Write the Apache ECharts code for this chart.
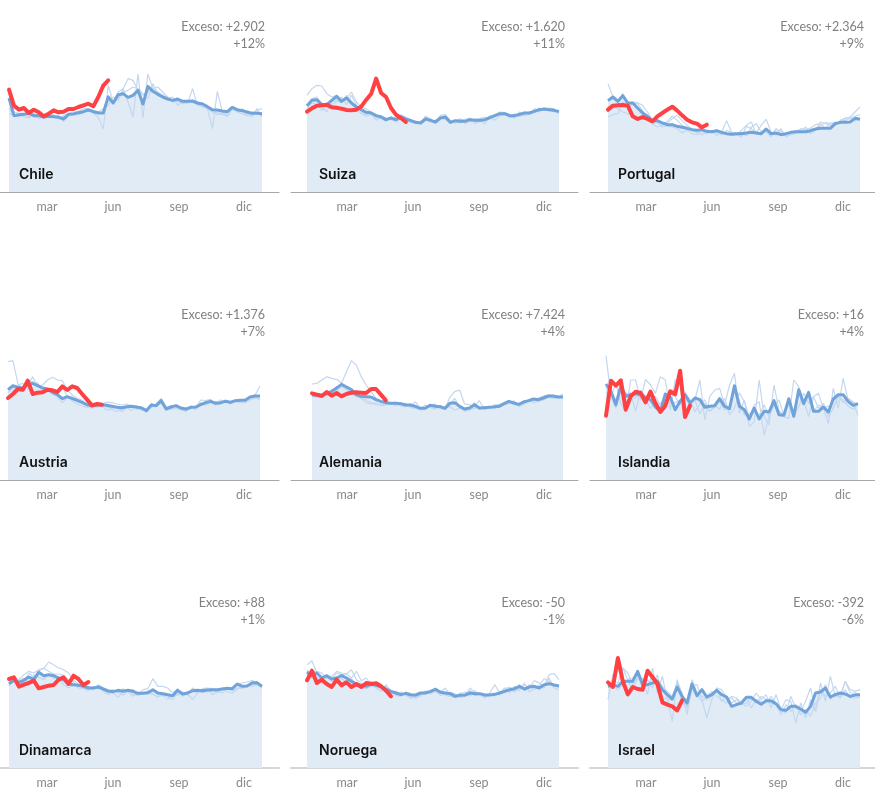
<!DOCTYPE html>
<html>
<head>
<meta charset="utf-8">
<script src="https://cdn.jsdelivr.net/npm/echarts@6/dist/echarts.min.js"></script>
<style>
html, body { margin: 0; padding: 0; background: #fff; }
#chart { width: 875px; height: 794px; }
</style>
</head>
<body>
<div id="chart"></div>
<script>
var countries = ['Chile', 'Suiza', 'Portugal', 'Austria', 'Alemania', 'Islandia', 'Dinamarca', 'Noruega', 'Israel'];
var excessLabels = ['Exceso: +2.902', 'Exceso: +1.620', 'Exceso: +2.364', 'Exceso: +1.376', 'Exceso: +7.424', 'Exceso: +16', 'Exceso: +88', 'Exceso: -50', 'Exceso: -392'];
var pctLabels = ['+12%', '+11%', '+9%', '+7%', '+4%', '+4%', '+1%', '-1%', '-6%'];
var monthLabels = ['mar', 'jun', 'sep', 'dic'];

// weekly values, one per week of the year. current year stops where the data stops
var chileMean = [282,229,232,233,237,229,229,225,227,226, 224,219,233,234,238,241,246,241,238,237, 285,267,292,295,284,290,305,264,317,302, 293,285,279,275,279,272,272,273,267,264, 256,247,246,243,241,254,247,244,240,236, 236,235];
var chileRed = [307,259,247,252,237,247,239,227,235,245, 239,241,249,249,255,260,265,257,285,319, 335];
var chileA = [252,228,232,226,222,234,232,220,226,224, 230,212,228,236,232,240,250,236,224,189, 320,270,300,310,270,225,354,222,354,310, 300,290,280,285,260,272,265,310,260,268, 250,190,302,240,230,255,240,250,238,225, 250,225];
var chileB = [235,230,225,235,225,235,220,225,230,232, 222,230,235,240,242,250,250,245,240,250, 260,285,275,310,340,335,305,290,300,310, 315,300,285,270,272,265,268,270,262,255, 250,240,238,232,228,250,240,235,228,230, 246,250];
var chileC = [290,240,236,236,232,228,232,228,236,230, 220,226,230,236,242,244,248,240,232,240, 290,270,280,300,305,315,310,295,280,325, 295,290,280,270,280,270,275,268,270,258, 250,240,232,236,226,248,245,242,232,240, 240,228];

var suizaMean = [259,275,277,262,262,275,287,272,282,267, 255,247,239,237,229,225,217,222,217,225, 219,214,209,207,219,215,210,222,225,209, 214,212,212,217,215,215,217,223,229,235, 235,229,229,233,237,237,242,247,249,247, 245,241];
var suizaRed = [241,251,259,260,262,254,253,250,246,245, 247,257,277,295,340,297,285,252,232,222, 210];
var suizaA = [290,310,320,318,295,285,290,270,280,300, 270,255,250,240,225,230,215,220,225,220, 222,218,212,210,225,215,205,222,218,205, 212,220,205,215,212,213,205,225,215,230, 235,225,222,240,228,235,245,240,252,250, 240,240];
var suizaB = [250,268,262,245,255,262,270,285,262,290, 262,240,232,240,222,220,212,225,210,220, 215,210,205,212,222,210,215,225,222,212, 210,207,218,222,205,212,215,228,225,240, 238,232,225,228,240,232,250,245,250,244, 244,238];
var suizaC = [262,280,285,255,240,270,275,268,290,272, 248,235,228,232,215,228,222,218,212,232, 224,210,212,205,228,220,208,230,232,215, 205,218,216,210,218,220,225,218,232,228, 232,225,235,226,235,240,238,252,245,252, 250,235];

var portugalMean = [274,285,272,289,267,267,252,237,227,214, 214,207,202,202,197,194,191,187,185,187, 182,181,184,179,175,173,175,175,177,179, 177,175,189,175,177,172,175,179,181,181, 181,184,189,191,191,191,205,209,209,210, 221,218];
var portugalRed = [247,259,260,261,259,227,219,225,219,212, 227,237,247,256,244,230,217,209,205,194, 202];
var portugalA = [325,285,270,295,250,265,265,245,220,205, 210,195,198,195,190,178,185,175,172,182, 175,185,170,180,214,180,172,165,197,190, 178,200,218,180,170,190,165,172,175,180, 195,175,186,210,205,200,200,215,222,225, 240,255];
var portugalB = [225,232,235,270,255,270,268,260,240,215, 212,208,205,220,230,215,200,190,178,172, 178,182,180,172,185,178,176,180,168,195, 205,180,182,165,190,176,175,180,178,190, 188,192,202,205,190,206,204,210,215,220, 228,232];
var portugalC = [240,255,250,240,235,230,215,222,215,205, 195,200,212,228,215,200,190,185,180,190, 176,180,186,172,178,170,172,185,200,210, 175,172,182,170,188,182,170,176,184,185, 178,188,190,200,208,206,210,205,220,224, 212,222];

var austriaMean = [271,283,278,276,286,290,283,276,273,263, 256,244,250,245,239,233,226,222,225,226, 224,221,218,217,220,221,219,216,208,225, 223,238,213,219,223,216,213,218,219,226, 232,236,230,232,236,233,238,239,239,249, 252,252];
var austriaRed = [246,258,273,271,298,258,262,263,271,269, 264,281,270,281,276,258,241,224,228,226];
var austriaA = [355,358,290,270,285,310,280,275,272,265, 260,280,250,238,240,230,222,218,232,228, 234,232,228,225,228,222,215,220,212,222, 228,245,220,215,225,212,210,215,218,240, 238,242,228,240,236,235,240,240,238,250, 255,282];
var austriaB = [275,278,272,265,295,295,280,285,300,308, 300,298,270,255,245,240,222,215,232,230, 218,215,222,205,216,222,212,218,204,230, 222,240,212,224,218,212,205,222,215,232, 225,232,236,228,238,230,235,240,240,250, 250,245];
var austriaC = [262,275,285,290,272,288,292,265,268,258, 250,232,248,238,228,222,218,224,218,222, 210,212,206,212,218,208,222,210,205,218, 228,230,218,212,215,210,208,216,212,225, 226,240,225,228,240,228,236,232,232,240, 246,240];

var alemaniaMean = [256,254,254,259,266,276,287,279,271,256, 251,250,249,241,236,232,230,230,229,225, 225,221,215,215,224,221,220,215,230,232, 221,213,216,226,216,217,218,219,221,229, 236,231,227,234,238,243,241,246,252,252, 249,249];
var alemaniaRed = [260,256,252,264,253,261,251,258,262,263, 262,261,273,273,256,239];
var alemaniaA = [288,290,300,310,305,302,290,325,358,345, 310,285,265,245,235,228,226,232,228,230, 220,235,215,218,225,228,218,212,248,265, 270,228,226,220,238,212,215,222,224,230, 232,228,222,232,235,238,245,252,255,254, 250,258];
var alemaniaB = [250,258,256,252,262,280,282,270,262,250, 245,240,232,225,228,225,230,222,232,226, 218,215,212,225,218,212,224,218,220,210, 215,214,210,215,220,212,218,224,226,228, 232,228,224,238,236,240,238,248,250,250, 250,246];
var alemaniaC = [252,248,250,262,255,268,280,272,258,252, 245,232,228,232,222,226,228,234,222,220, 228,224,210,215,225,226,215,212,225,245, 218,206,212,232,212,220,214,226,218,225, 228,238,220,226,240,232,236,240,248,245, 246,252];

var islandiaMean = [288,266,226,283,251,256,259,256,248,241, 219,206,258,249,211,236,256,231,246,241, 218,221,223,244,221,214,283,221,211,183, 216,183,206,204,238,196,194,244,191,271, 229,263,206,206,219,204,243,256,256,236, 224,229];
var islandiaRed = [193,298,283,299,211,251,265,261,233,265, 231,204,223,266,257,328,189,223];
var islandiaA = [373,250,290,230,205,300,300,240,302,285, 260,310,300,210,301,285,200,228,240,300, 180,250,270,275,225,285,320,200,240,160, 175,300,190,165,285,210,190,185,300,280, 240,190,250,260,215,170,275,215,305,240, 230,195];
var islandiaB = [230,262,240,270,255,262,205,270,250,240, 250,225,230,270,250,225,262,240,205,228, 240,205,225,212,245,195,215,262,235,190, 225,235,135,190,225,240,196,232,190,220, 260,230,250,215,230,190,215,250,232,245, 235,225];
var islandiaC = [262,250,215,272,262,240,248,255,240,215, 228,230,244,232,232,240,245,228,240,198, 230,205,218,236,210,216,270,236,195,200, 205,195,225,190,225,205,200,226,188,262, 240,255,205,225,215,222,215,250,240,222, 212,228];

var dinamarcaMean = [253,263,257,263,273,265,287,277,280,277, 270,265,252,250,248,245,240,240,243,237, 231,229,233,230,233,230,224,224,226,235, 225,223,220,217,233,222,225,232,233,232, 234,235,235,237,239,238,252,245,246,255, 256,245];
var dinamarcaRed = [267,272,244,250,255,262,239,243,247,249, 265,272,252,277,267,249,258];
var dinamarcaA = [255,272,265,280,290,285,295,298,318,310, 300,295,285,265,250,245,245,235,250,240, 232,235,225,238,228,235,220,235,238,268, 245,245,240,225,238,215,228,232,225,238, 240,238,225,240,235,240,250,255,258,262, 258,245];
var dinamarcaB = [245,268,250,258,285,272,292,300,290,282, 282,278,265,258,240,238,232,245,238,238, 225,225,212,230,228,215,225,222,232,222, 212,225,215,205,225,218,222,205,225,235, 238,220,230,240,228,225,236,248,244,260, 252,248];
var dinamarcaC = [262,260,262,270,258,280,272,265,282,268, 272,250,240,248,252,240,245,235,248,230, 220,232,228,218,235,222,216,228,224,220, 215,218,205,220,218,228,218,240,230,226, 228,232,230,226,238,232,240,238,250,245, 250,240];

var noruegaMean = [288,277,285,270,277,267,270,277,270,260, 252,248,245,252,248,243,237,230,225,220, 224,219,219,225,225,230,236,227,225,223, 215,218,219,225,223,223,219,219,221,225, 230,235,238,245,237,243,245,240,250,253, 249,246];
var noruegaRed = [263,292,255,265,252,243,265,248,257,243, 252,243,255,252,254,245,232,215];
var noruegaA = [310,322,285,270,275,265,285,280,282,270, 290,262,270,250,240,230,250,225,230,222, 222,208,215,220,222,232,240,228,240,218, 212,225,218,240,225,222,210,225,250,225, 240,225,245,238,250,240,262,255,245,280, 283,265];
var noruegaB = [280,290,290,285,268,275,290,285,282,295, 265,255,248,260,240,230,248,232,218,228, 218,210,212,216,232,222,230,218,222,228, 222,212,214,232,216,222,216,218,224,220, 238,242,235,232,255,228,240,248,268,260, 250,245];
var noruegaC = [295,268,270,262,272,262,255,268,258,268, 250,240,238,245,252,238,230,226,218,215, 228,224,208,218,228,225,230,232,218,215, 212,222,228,216,232,218,214,222,216,230, 226,235,228,250,232,250,235,245,240,270, 240,235];

var israelMean = [245,250,245,260,260,260,290,250,250,255, 260,235,220,207,243,215,195,252,217,235, 213,220,233,220,213,185,190,195,212,212, 200,191,202,202,193,175,173,185,185,177, 167,185,225,228,240,213,220,225,222,215, 219,220];
var israelRed = [257,243,330,260,221,243,237,235,292,273, 252,197,190,185,173,203];
var israelA = [205,280,290,300,285,250,265,270,220,300, 225,275,205,205,260,225,160,245,250,205, 150,205,240,235,210,210,195,195,185,200, 225,205,220,180,220,175,205,200,135,195, 150,205,170,255,200,275,215,215,260,235, 230,235];
var israelB = [240,260,255,300,265,270,285,240,265,240, 280,205,210,140,265,215,185,260,220,200, 215,230,215,205,195,215,210,195,210,180, 205,200,195,215,195,180,165,215,180,170, 200,240,170,235,215,225,245,210,260,225, 225,222];
var israelC = [250,245,235,250,265,230,275,265,245,270, 265,245,230,215,255,195,180,265,225,215, 205,215,240,200,215,195,205,190,195,210, 195,215,205,195,190,160,190,170,190,160, 175,155,195,210,250,205,225,210,235,210, 210,212];

var means = [chileMean, suizaMean, portugalMean, austriaMean, alemaniaMean, islandiaMean, dinamarcaMean, noruegaMean, israelMean];
var reds = [chileRed, suizaRed, portugalRed, austriaRed, alemaniaRed, islandiaRed, dinamarcaRed, noruegaRed, israelRed];
var thins = [
    [chileA, chileB, chileC], [suizaA, suizaB, suizaC], [portugalA, portugalB, portugalC],
    [austriaA, austriaB, austriaC], [alemaniaA, alemaniaB, alemaniaC], [islandiaA, islandiaB, islandiaC],
    [dinamarcaA, dinamarcaB, dinamarcaC], [noruegaA, noruegaB, noruegaC], [israelA, israelB, israelC]
];

// layout, px
var GRID_H = 130, Y_MAX = 390;
var baselines = [192, 480, 768];
var axisSpans = [[0, 279], [291, 578], [590, 875]];
var fillSpans = [[9, 262], [307, 559], [608, 860], [8, 260], [312, 563], [606, 858], [9, 262], [307, 559], [608, 860]];
var tickPx = [[47, 113, 179, 244], [347, 413, 479, 544], [646, 712, 778, 843]];
var textRight = [265, 565, 864];
var titleLeft = [19, 319, 618];
var FONT = 'Lato, "Noto Sans", sans-serif';

function weekPoints(values) {
    return values.map(function (v, i) { return [i, v]; });
}

var grids = [], xAxes = [], yAxes = [], series = [], titles = [];

countries.forEach(function (name, i) {
    var col = i % 3, row = Math.floor(i / 3);
    var span = axisSpans[col], fill = fillSpans[i], base = baselines[row];
    var pxPerWeek = (fill[1] - fill[0]) / 51;
    var ticks = tickPx[col].map(function (p) { return (p - fill[0]) / pxPerWeek; });

    grids.push({ left: span[0], width: span[1] - span[0], top: base - GRID_H, height: GRID_H });
    xAxes.push({
        type: 'value', gridIndex: i,
        min: (span[0] - fill[0]) / pxPerWeek,
        max: (span[1] - fill[0]) / pxPerWeek,
        splitLine: { show: false },
        axisLine: { show: true, onZero: false, lineStyle: row === 2 ? { color: '#d3d7db', width: 2 } : { color: '#a8a8a8', width: 1 } },
        axisTick: { show: false },
        axisLabel: {
            show: true, customValues: ticks, margin: 8, color: '#8a8a8a', fontSize: 12.5, fontFamily: FONT,
            showMinLabel: true, showMaxLabel: true,
            formatter: function (value) {
                return monthLabels[ticks.indexOf(value)] || '';
            }
        }
    });
    yAxes.push({ type: 'value', gridIndex: i, min: 0, max: Y_MAX, show: false });

    series.push({
        type: 'line', xAxisIndex: i, yAxisIndex: i, data: weekPoints(means[i]), symbol: 'none', silent: true,
        lineStyle: { width: 0 }, areaStyle: { color: '#e1ebf6', opacity: 1 }, z: 1
    });
    thins[i].forEach(function (t) {
        series.push({
            type: 'line', xAxisIndex: i, yAxisIndex: i, data: weekPoints(t), symbol: 'none', silent: true,
            lineStyle: { width: 1.2, color: '#c3d7ef' }, z: 2
        });
    });
    series.push({
        type: 'line', xAxisIndex: i, yAxisIndex: i, data: weekPoints(means[i]), symbol: 'none', silent: true,
        lineStyle: { width: 3, color: '#6fa3d9', join: 'round' }, z: 3
    });
    series.push({
        type: 'line', xAxisIndex: i, yAxisIndex: i, data: weekPoints(reds[i]), symbol: 'none', silent: true,
        lineStyle: { width: 4, color: '#ff4144', join: 'round', cap: 'round' }, z: 4
    });

    titles.push({
        text: excessLabels[i] + '\n' + pctLabels[i], left: textRight[col], top: base - 174, padding: 0,
        textAlign: 'right',
        textStyle: { color: '#808080', fontSize: 12.5, fontWeight: 'normal', fontFamily: FONT, lineHeight: 17 }
    });
    titles.push({
        text: name, left: titleLeft[col], top: base - 24, padding: 0,
        textStyle: { color: '#111', fontSize: 14, fontWeight: 600, fontFamily: 'Inter, "Noto Sans", sans-serif' }
    });
});

var myChart = echarts.init(document.getElementById('chart'), null, { renderer: 'canvas' });
myChart.setOption({
    animation: false,
    title: titles,
    grid: grids,
    xAxis: xAxes,
    yAxis: yAxes,
    series: series
});
</script>
</body>
</html>
